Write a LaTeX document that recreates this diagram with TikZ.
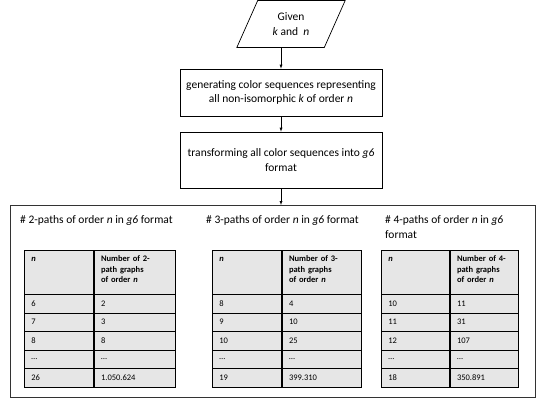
\documentclass[tikz,border=0pt]{standalone}
\usepackage{fontspec}
\setmainfont{Carlito}
\usetikzlibrary{shapes.geometric}
\usetikzlibrary{positioning}
\usetikzlibrary{calc}

\definecolor{cellgray}{RGB}{230,230,230}

\begin{document}
\begin{tikzpicture}[x=1pt, y=-1pt, >=latex, font=\fontsize{11.5}{14.5}\selectfont]

\tikzset{
  flowbox/.style={draw, line width=0.7pt, minimum width=202pt, align=center, inner sep=2pt},
  inputbox/.style={draw, line width=0.7pt, trapezium, trapezium left angle=65, trapezium right angle=115,
    trapezium stretches=true, minimum width=109pt, minimum height=47pt, align=center},
  cell/.style={draw, line width=0.7pt, fill=cellgray, anchor=north west, inner xsep=7pt, inner ysep=3.5pt,
    align=left, font=\fontsize{8.5}{10.2}\selectfont},
  headcell/.style={text height=8pt, text depth=29pt},
  datacell/.style={minimum height=18.5pt},
  tabletitle/.style={anchor=north west, inner sep=0pt, align=left, font=\fontsize{11.5}{15.5}\selectfont}
}

\useasboundingbox (0,0) rectangle (544,408);

\node[inputbox] (given) at (291,24) {Given\\\textit{k} and \ \textit{n}};
\node[flowbox, minimum height=47pt] (gen) at (281,92.5)
  {generating color sequences representing\\all non-isomorphic \textit{k} of order \textit{n}};
\node[flowbox, minimum height=56pt] (trans) at (281,160)
  {transforming all color sequences into \textit{g6}\\format};
\node[draw, draw=black!80, line width=0.8pt, minimum width=525pt, minimum height=192pt,
  anchor=north west, inner sep=0pt] (results) at (10,205) {};

\draw[->] (given.south -| gen.north) -- (gen.north);
\draw[->] (gen) -- (trans);
\draw[->] (trans) -- (trans |- results.north);

% titles above the tables
\node[tabletitle] (title2) at (20,215) {\# 2-paths of order \textit{n} in \textit{g6} format};
\node[tabletitle] (title3) at (206,215) {\# 3-paths of order \textit{n} in \textit{g6} format};
\node[tabletitle] (title4) at (385,215) {\# 4-paths of order \textit{n} in \textit{g6}\\format};

% one table per path length
\foreach \k/\xa/\wa/\wb/\rows in {
    2/24/69/81/{6/2,7/3,8/8,\ldots/\ldots,26/1.050.624},
    3/212/69/79/{8/4,9/10,10/25,\ldots/\ldots,19/399.310},
    4/381/68/68/{10/11,11/31,12/107,\ldots/\ldots,18/350.891}}
{
  \pgfmathsetmacro\ta{\wa-14}
  \pgfmathsetmacro\tb{\wb-14}
  \node[cell, headcell, text width=\ta pt] (t\k-h1) at (\xa,250) {\bfseries\itshape n};
  \node[cell, headcell, text width=\tb pt] (t\k-h2) at (t\k-h1.north east)
    {\bfseries Number of \k-\\path graphs\\of order \textit{n}};
  \foreach \a/\b [count=\i] in \rows {
    \node[cell, datacell, text width=\ta pt] (t\k-\i-1) at (\xa,{294+18.5*(\i-1)}) {\a};
    \node[cell, datacell, text width=\tb pt] (t\k-\i-2) at (t\k-\i-1.north east) {\b};
  }
}

\end{tikzpicture}
\end{document}
